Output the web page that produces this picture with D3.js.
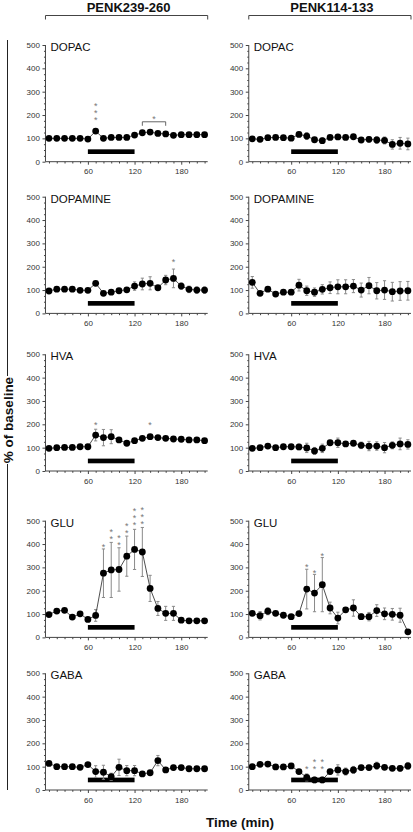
<!DOCTYPE html>
<html><head><meta charset="utf-8">
<script src="https://cdn.jsdelivr.net/npm/d3@7"></script>
<style>body{margin:0;background:#fff}svg{display:block}text{font-family:"Liberation Sans",Arial,sans-serif}</style>
</head><body><svg id="c" width="413" height="832"></svg>
<script>
// ---------- data ----------
const minutes = [10,20,30,40,50,60,70,80,90,100,110,120,130,140,150,160,170,180,190,200,210];
const columnTitles = ["PENK239-260", "PENK114-133"];
const analytes = ["DOPAC", "DOPAMINE", "HVA", "GLU", "GABA"];
const yTicks = [0,100,200,300,400,500];
const xTicks = [60,120,180];
const infusion = [60,120];

// PENK239-260
const L_DOPAC_mean = [100,100,100,100,100,97,131,100,104,104,104,114,124,127,121,119,113,116,116,116,116];
const L_DOPAC_err  = [3,3,3,3,3,3,6,3,3,3,3,4,4,4,4,4,3,3,3,3,3];
const L_DOPAMINE_mean = [96,104,104,104,99,99,129,86,91,97,101,117,126,129,110,143,150,117,103,100,100];
const L_DOPAMINE_err  = [4,4,4,4,4,4,8,8,10,5,5,18,25,28,8,20,40,14,14,14,14];
const L_HVA_mean = [97,100,101,101,104,104,154,143,147,133,119,130,140,147,143,140,137,136,133,133,130];
const L_HVA_err  = [3,3,3,3,3,3,25,35,30,8,4,4,4,4,4,4,4,4,4,4,4];
const L_GLU_mean = [98,113,116,87,101,77,94,275,289,291,348,377,366,210,124,103,103,74,71,71,71];
const L_GLU_err  = [5,5,5,5,5,5,25,104,118,93,86,86,105,56,30,30,30,5,5,5,5];
const L_GABA_mean = [114,100,100,100,97,109,79,76,57,97,83,83,69,74,126,86,96,96,91,91,91];
const L_GABA_err  = [5,4,4,4,4,4,25,30,15,35,22,22,6,5,22,8,10,10,10,10,10];

// PENK114-133
const R_DOPAC_mean = [98,96,103,104,103,101,117,110,94,90,104,106,104,107,93,96,93,91,74,79,76];
const R_DOPAC_err  = [5,4,4,4,4,4,10,15,10,12,6,8,5,5,10,12,14,15,20,25,25];
const R_DOPAMINE_mean = [133,86,104,83,91,91,121,97,91,103,110,114,114,117,100,119,97,100,93,96,97];
const R_DOPAMINE_err  = [25,5,5,5,6,6,25,20,18,20,25,30,30,28,30,35,35,40,40,40,40];
const R_HVA_mean = [97,100,107,100,104,104,103,99,86,97,121,121,116,119,110,107,107,100,110,116,114];
const R_HVA_err  = [5,5,5,5,5,5,12,20,15,18,10,20,8,10,14,20,18,22,15,25,20];
const R_GLU_mean = [103,93,112,103,95,89,102,207,190,226,126,83,118,126,89,89,115,101,99,95,24];
const R_GLU_err  = [5,18,15,5,5,5,5,85,80,116,25,25,8,35,12,18,25,25,25,30,5];
const R_GABA_mean = [100,110,111,99,99,103,79,54,43,43,79,86,79,86,96,96,104,97,93,93,103];
const R_GABA_err  = [4,4,4,4,4,4,5,15,12,12,10,22,15,15,10,10,15,5,8,12,15];

// significance marks: time, number of asterisks, level (in % of baseline) of the lowest asterisk
const L_DOPAC_stars = [{t:70,n:3,v:186}];
const L_DOPAC_bracket = {from:130, to:160, v:171, n:1, starV:193};
const L_DOPAMINE_stars = [{t:170,n:1,v:231}];
const L_HVA_stars = [{t:70,n:1,v:207},{t:140,n:1,v:207}];
const L_GLU_stars = [{t:80,n:1,v:397},{t:90,n:2,v:431},{t:100,n:2,v:405},{t:110,n:2,v:455},{t:120,n:3,v:491},{t:130,n:3,v:496}];
const R_GLU_stars = [{t:80,n:1,v:309},{t:90,n:1,v:287},{t:100,n:1,v:359}];
const R_GABA_stars = [{t:80,n:1,v:100},{t:90,n:2,v:100},{t:100,n:2,v:100}];

const panels = [
  [ {mean:L_DOPAC_mean, err:L_DOPAC_err, stars:L_DOPAC_stars, bracket:L_DOPAC_bracket},
    {mean:L_DOPAMINE_mean, err:L_DOPAMINE_err, stars:L_DOPAMINE_stars},
    {mean:L_HVA_mean, err:L_HVA_err, stars:L_HVA_stars},
    {mean:L_GLU_mean, err:L_GLU_err, stars:L_GLU_stars},
    {mean:L_GABA_mean, err:L_GABA_err, stars:[]} ],
  [ {mean:R_DOPAC_mean, err:R_DOPAC_err, stars:[]},
    {mean:R_DOPAMINE_mean, err:R_DOPAMINE_err, stars:[]},
    {mean:R_HVA_mean, err:R_HVA_err, stars:[]},
    {mean:R_GLU_mean, err:R_GLU_err, stars:R_GLU_stars},
    {mean:R_GABA_mean, err:R_GABA_err, stars:R_GABA_stars} ]
];

// ---------- layout ----------
const svg = d3.select("#c");
svg.append("rect").attr("width",413).attr("height",832).attr("fill","#fff");
const pxPerMin = 0.778;
const colX0 = [41.2, 244.5];
const rowTop = [45, 196.7, 354.3, 520.7, 673.3];
const plotH = 116.7;
const axStart = 5.5, axEnd = 214;
const yMinor = [25,50,75,125,150,175,225,250,275,325,350,375,425,450,475];
const xMinor = minutes.filter(m => !xTicks.includes(m));
const axisColor = "#444";
const starFs = 9;
const starStep = 7;

columnTitles.forEach((title, c) => {
  const x = d3.scaleLinear().domain([0,220]).range([colX0[c], colX0[c] + 220*pxPerMin]);
  const cx = (x(axStart) + x(axEnd)) / 2;
  svg.append("text").attr("x", cx + 2).attr("y", 12).attr("text-anchor","middle")
    .attr("font-size",13).attr("font-weight","bold").attr("fill","#111").text(title);
  svg.append("path").attr("fill","none").attr("stroke","#444").attr("stroke-width",1)
    .attr("d", `M${x(axStart)},19.5V15.5H${x(axEnd)}V19.5`);

  analytes.forEach((name, r) => {
    const p = panels[c][r];
    const y = d3.scaleLinear().domain([0,500]).range([rowTop[r] + plotH, rowTop[r]]);
    const g = svg.append("g");
    const ax = x(axStart), ay = y(0);

    // y axis
    const gy = g.append("g").attr("transform", `translate(${ax},0)`);
    gy.call(d3.axisLeft(y).tickValues(yTicks).tickSize(3).tickPadding(2.5));
    gy.append("g").call(d3.axisLeft(y).tickValues(yMinor).tickSize(1.5).tickFormat(""));
    gy.selectAll(".domain").remove();
    gy.selectAll("line").attr("stroke", axisColor);
    gy.selectAll("text").attr("font-size", 8).attr("fill","#333").attr("font-family",'"Liberation Sans",Arial,sans-serif');
    g.append("line").attr("x1",ax).attr("x2",ax).attr("y1",y(0)).attr("y2",y(500)).attr("stroke",axisColor);

    // x axis
    const gx = g.append("g").attr("transform", `translate(0,${ay})`);
    gx.call(d3.axisBottom(x).tickValues(xTicks).tickSize(3).tickPadding(4));
    gx.append("g").call(d3.axisBottom(x).tickValues(xMinor).tickSize(1.8).tickFormat(""));
    gx.selectAll(".domain").remove();
    gx.selectAll("line").attr("stroke", axisColor);
    gx.selectAll("text").attr("font-size", 8).attr("fill","#333").attr("font-family",'"Liberation Sans",Arial,sans-serif');
    g.append("line").attr("x1",ax).attr("x2",x(axEnd)).attr("y1",ay).attr("y2",ay).attr("stroke",axisColor);

    // analyte label
    g.append("text").attr("x", ax + 5).attr("y", y(500) + 5.8).attr("font-size", 11.5)
      .attr("fill","#111").text(name);

    // infusion bar
    g.append("rect").attr("x", x(infusion[0])).attr("width", x(infusion[1]) - x(infusion[0]))
      .attr("y", y(53)).attr("height", y(33) - y(53)).attr("fill","#000");

    const pts = minutes.map((t,i) => ({t, m:p.mean[i], e:p.err[i]}));
    // error bars
    const eb = g.append("g").attr("stroke","#8a8a8a").attr("stroke-width",1).attr("fill","none");
    eb.selectAll("path").data(pts).join("path")
      .attr("d", d => `M${x(d.t)},${y(d.m-d.e)}V${y(d.m+d.e)}M${x(d.t)-1.6},${y(d.m+d.e)}H${x(d.t)+1.6}M${x(d.t)-1.6},${y(d.m-d.e)}H${x(d.t)+1.6}`);
    // line
    g.append("path").datum(pts).attr("fill","none").attr("stroke","#222").attr("stroke-width",0.8)
      .attr("d", d3.line().x(d => x(d.t)).y(d => y(d.m)));
    // points
    g.selectAll("circle").data(pts).join("circle")
      .attr("cx", d => x(d.t)).attr("cy", d => y(d.m)).attr("r", 3.4).attr("fill","#000");

    // stars: one text per time point, stacked asterisks as tspans
    p.stars.forEach(s => {
      const t = g.append("text").attr("text-anchor","middle").attr("font-size", starFs).attr("fill","#777");
      for (let k = 0; k < s.n; k++) {
        t.append("tspan").attr("x", x(s.t)).attr("y", y(s.v) - k*starStep + starFs*0.57).text("*");
      }
    });
    if (p.bracket) {
      const b = p.bracket;
      g.append("path").attr("fill","none").attr("stroke","#555").attr("stroke-width",0.9)
        .attr("d", `M${x(b.from)},${y(b.v)+4}V${y(b.v)}H${x(b.to)}V${y(b.v)+4}`);
      g.append("text").attr("x", (x(b.from)+x(b.to))/2).attr("y", y(b.starV) + starFs*0.57)
        .attr("text-anchor","middle").attr("font-size", starFs).attr("fill","#777").text("*");
    }
  });
});

// shared axis titles
svg.append("line").attr("x1",7.5).attr("x2",7.5).attr("y1",40).attr("y2",376).attr("stroke","#222");
svg.append("line").attr("x1",7.5).attr("x2",7.5).attr("y1",464).attr("y2",790).attr("stroke","#222");
svg.append("text").attr("transform","translate(12.5,420) rotate(-90)").attr("text-anchor","middle")
  .attr("font-size",13.5).attr("font-weight","bold").attr("fill","#111").text("% of baseline");
svg.append("text").attr("x",240).attr("y",827).attr("text-anchor","middle")
  .attr("font-size",13.5).attr("font-weight","bold").attr("fill","#111").text("Time (min)");
</script></body></html>
